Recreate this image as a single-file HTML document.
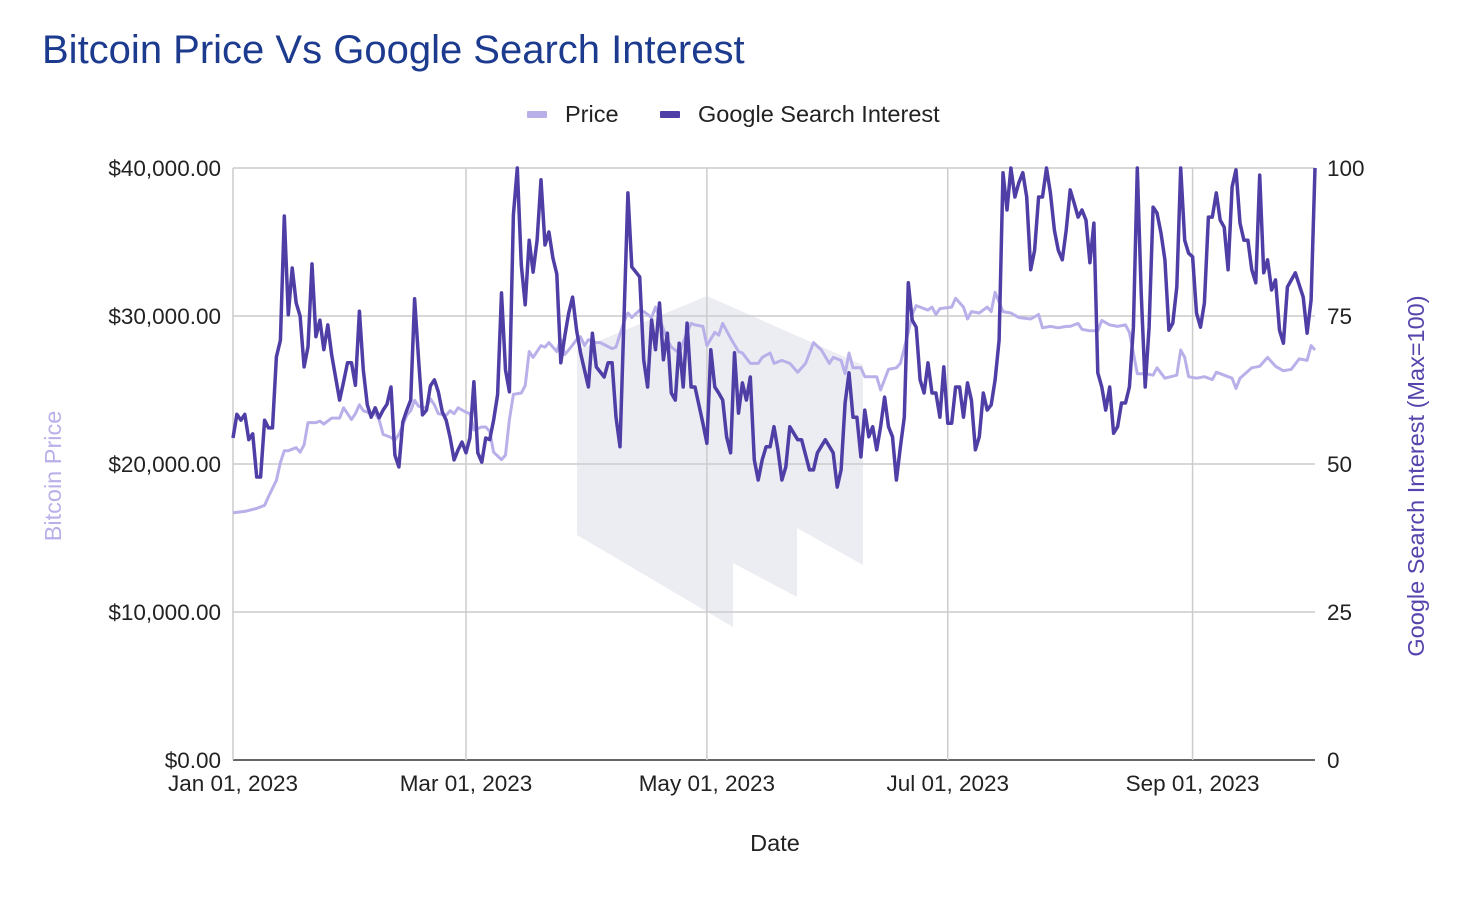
<!DOCTYPE html>
<html><head><meta charset="utf-8"><style>
body{margin:0;background:#fff;width:1468px;height:894px;overflow:hidden;font-family:"Liberation Sans",Arial,sans-serif}
</style></head><body>
<svg id="chart" width="1468" height="894" xmlns="http://www.w3.org/2000/svg" font-family="Liberation Sans, Arial, sans-serif">
<text x="42" y="63" font-size="40" fill="#1c3a8e">Bitcoin Price Vs Google Search Interest</text>
<g>
<g><rect x="527" y="111" width="20" height="7" rx="1" fill="#b9b0ea"/><text x="565" y="122" font-size="23.5" fill="#222">Price</text></g>
<g><rect x="660" y="111" width="20" height="7" rx="1" fill="#4e3ea5"/><text x="698" y="122" font-size="23.5" fill="#222">Google Search Interest</text></g>
</g>
<polygon points="577,350 707,296 863,365 863,565 797,528 797,597 733,563 733,627 577,535" fill="#ecedf2"/>
<g id="grid"></g>
<g id="axes"></g>
<g id="series"></g>
<text x="775" y="851" font-size="23.5" text-anchor="middle" fill="#222">Date</text>
<text transform="translate(61,476) rotate(-90)" font-size="23.5" text-anchor="middle" fill="#b9b0ea">Bitcoin Price</text>
<text transform="translate(1424,476) rotate(-90)" font-size="23.5" text-anchor="middle" fill="#5546ad">Google Search Interest (Max=100)</text>
</svg>
<script>
const xTickLabels=["Jan 01, 2023","Mar 01, 2023","May 01, 2023","Jul 01, 2023","Sep 01, 2023"];
const xTickDays=[0,59,120,181,243];
const leftTicks=[0,10000,20000,30000,40000];
const leftTickLabels=["$0.00","$10,000.00","$20,000.00","$30,000.00","$40,000.00"];
const rightTicks=[0,25,50,75,100];
const priceDays=[0,3,6,8,9,11,12,13,14,16,17,18,19,21,22,23,25,27,28,30,31,32,33,35,36,37,38,40,41,42,44,45,46,47,49,50,51,52,54,55,56,57,59,60,61,63,64,65,66,68,69,70,71,73,74,75,76,78,79,80,82,83,84,85,87,88,89,90,92,93,96,97,99,100,101,103,104,106,107,109,110,111,113,115,116,117,119,120,122,123,124,126,128,129,131,133,134,136,137,139,141,143,145,147,149,151,152,154,155,156,157,159,160,163,164,166,168,169,171,172,173,176,177,178,179,182,183,185,186,187,189,191,192,193,195,197,199,202,204,205,207,209,211,212,214,215,217,219,220,222,224,226,227,228,229,231,233,234,236,239,240,241,242,244,246,248,249,252,253,254,255,258,260,262,264,266,268,270,272,273,274];
const priceValues=[16700,16800,17000,17200,17800,18900,20100,20900,20900,21100,20800,21300,22800,22800,22900,22700,23100,23100,23800,23000,23400,24000,23600,23400,23400,23000,22000,21800,21600,22000,23300,23600,24300,23900,23800,24400,24000,23400,23300,23600,23400,23800,23500,23400,22300,22500,22500,22200,20800,20300,20600,23000,24700,24800,25300,27600,27200,28000,27900,28200,27600,28400,27400,27700,28400,28600,28000,28400,28200,28200,27800,27900,29600,30200,29900,30400,30300,29900,30600,29100,28400,27900,27500,28900,29500,29400,29300,28000,28900,28700,29500,28500,27600,27500,26800,26800,27200,27500,26800,27000,26800,26200,26800,28200,27700,26800,27200,27000,26100,27500,26500,26500,25900,25900,25000,26400,26500,26800,28900,30100,30700,30400,30600,30100,30500,30600,31200,30600,29800,30300,30200,30600,30300,31600,30300,30200,29900,29800,30100,29200,29300,29200,29300,29300,29500,29100,29000,29000,29700,29400,29300,29400,28900,27500,26100,26100,26000,26500,25800,26000,27700,27200,25900,25800,25900,25700,26200,25900,25800,25100,25800,26500,26600,27200,26600,26300,26400,27100,27000,28000,27700];
const interestDays=[0,1,2,3,4,5,6,7,8,9,10,11,12,13,14,15,16,17,18,19,20,21,22,23,24,25,27,28,29,30,31,32,33,34,35,36,37,38,39,40,41,42,43,44,45,46,47,48,49,50,51,52,53,54,55,56,57,58,59,60,61,62,63,64,65,66,67,68,69,70,71,72,73,74,75,76,77,78,79,80,81,82,83,84,85,86,87,88,90,91,92,94,95,96,97,98,100,101,103,104,105,106,107,108,109,110,111,112,113,114,115,116,117,119,120,121,122,123,124,125,126,127,128,129,130,131,132,133,134,135,136,137,138,139,140,141,142,143,144,146,147,148,150,152,153,154,155,156,157,158,159,160,161,162,163,164,165,166,167,168,169,170,171,172,173,174,175,176,177,178,179,180,181,182,183,184,185,186,187,188,189,190,191,192,193,194,195,196,197,198,199,200,201,202,203,204,205,206,207,208,209,210,211,212,213,214,215,216,217,218,219,220,221,222,223,224,225,226,227,228,229,230,231,232,233,234,235,236,237,238,239,240,241,242,243,244,245,246,247,248,249,250,251,252,253,254,255,256,257,258,259,260,261,262,263,264,265,266,267,269,271,272,273,274];
const interestValues=[54.4,58.4,57.4,58.4,54.1,55.1,47.8,47.8,57.4,56.1,56.1,68.1,70.9,91.9,75.2,83.1,77.2,75,66.4,69.8,83.8,71.5,74.3,69.3,73.5,68.4,60.8,63.9,67.1,67.1,63.3,75.8,65.9,60,57.9,59.5,57.8,59.1,60.1,63,51.5,49.5,57.1,59.1,60.8,77.9,67.6,58.3,59.1,63.2,64.2,62.2,58.8,57.4,54.4,50.7,52.4,53.7,51.9,54.4,63.9,51.9,50.3,54.4,54.1,57.4,61.7,78.9,65.9,62.2,92.1,100,83.6,76.9,87.8,82.4,87.8,98,87,89.2,84.8,82.1,67.1,71.5,75.5,78.2,72.6,68.8,63,72.1,66.4,64.7,67.1,67.1,57.9,52.9,95.8,83.3,81.6,67.6,63,74.3,69.3,77.2,67.6,72.1,62,60.8,70.4,63,73.8,63,63,56.9,53.5,69.3,63,62,60.8,54.6,51.9,68.8,58.6,63.7,60.8,64.7,50.7,47.3,50.7,52.9,52.9,56.3,52.4,47.3,49.5,56.3,55.2,54.1,54.1,49,49,51.9,54.1,51.9,46.1,49,60.3,65.4,57.9,57.9,51.2,59.1,54.6,56.3,52.4,56.3,61.3,56.3,54.6,47.3,52.9,57.9,80.6,74.3,73.1,64.2,62,67.1,62,62,57.9,66.4,56.9,56.9,63,63,57.9,63.7,60.8,52.4,54.6,62,59.1,60,64.2,70.9,99.2,92.9,100,95.1,97.5,99.2,95.1,82.8,86.1,95.1,95.1,100,95.8,89.5,86.1,84.5,89.5,96.3,94.1,91.7,92.9,91.2,84,90.7,65.4,63,59.1,63,55.2,56.3,60.3,60.3,63,73.1,100,78.9,63,73.1,93.4,92.4,89,84.5,72.6,73.8,79.9,100,87.8,85.6,85,75.5,73.1,77.2,91.7,91.7,95.8,91.2,90,82.8,96.8,99.7,90.7,87.8,87.8,82.8,80.6,98.8,82.3,84.5,79.4,81.1,72.6,70.4,79.9,82.3,78.2,72.1,77.7,100];

const NS="http://www.w3.org/2000/svg";
const X0=233,X1=1315,Y0=760,Y1=168,DAYMAX=274;
function xs(d){return X0+(X1-X0)*d/DAYMAX;}
function yl(v){return Y0-(Y0-Y1)*v/40000;}
function yr(v){return Y0-(Y0-Y1)*v/100;}
function mk(tag,attrs,parent){const e=document.createElementNS(NS,tag);for(const k in attrs)e.setAttribute(k,attrs[k]);parent.appendChild(e);return e;}
const grid=document.getElementById('grid'),axes=document.getElementById('axes'),series=document.getElementById('series');
leftTicks.forEach((t,i)=>{
  const y=yl(t);
  const l=mk('line',{x1:X0,x2:X1,y1:y,y2:y,stroke:i===0?'#333':'#ccc','stroke-width':1.5},grid);
  
  
  const tx=mk('text',{x:221,y:y+8,'font-size':22.5,'text-anchor':'end',fill:'#222'},axes);
  tx.textContent=leftTickLabels[i];
  
  
});
rightTicks.forEach((t)=>{
  const tx=mk('text',{x:1327,y:yr(t)+8,'font-size':22.5,fill:'#222'},axes);
  tx.textContent=String(t);
  
  
});
const la=mk('line',{x1:X0,x2:X0,y1:Y1,y2:Y0,stroke:'#ccc','stroke-width':1.5},grid);


xTickDays.forEach((d,i)=>{
  const x=xs(d);
  if(i>0){const l=mk('line',{x1:x,x2:x,y1:Y1,y2:Y0,stroke:'#ccc','stroke-width':1.5},grid);
  
  }
  const tx=mk('text',{x:x,y:791,'font-size':22.5,'text-anchor':'middle',fill:'#222'},axes);
  tx.textContent=xTickLabels[i];
  
  
});
const pp=mk('polyline',{points:priceDays.map((d,i)=>xs(d).toFixed(1)+','+yl(priceValues[i]).toFixed(1)).join(' '),fill:'none',stroke:'#b9b0ea','stroke-width':3,'stroke-linejoin':'round'},series);


const ip=mk('polyline',{points:interestDays.map((d,i)=>xs(d).toFixed(1)+','+yr(interestValues[i]).toFixed(1)).join(' '),fill:'none',stroke:'#4e3ea5','stroke-width':3.5,'stroke-linejoin':'round'},series);


</script>
</body></html>
